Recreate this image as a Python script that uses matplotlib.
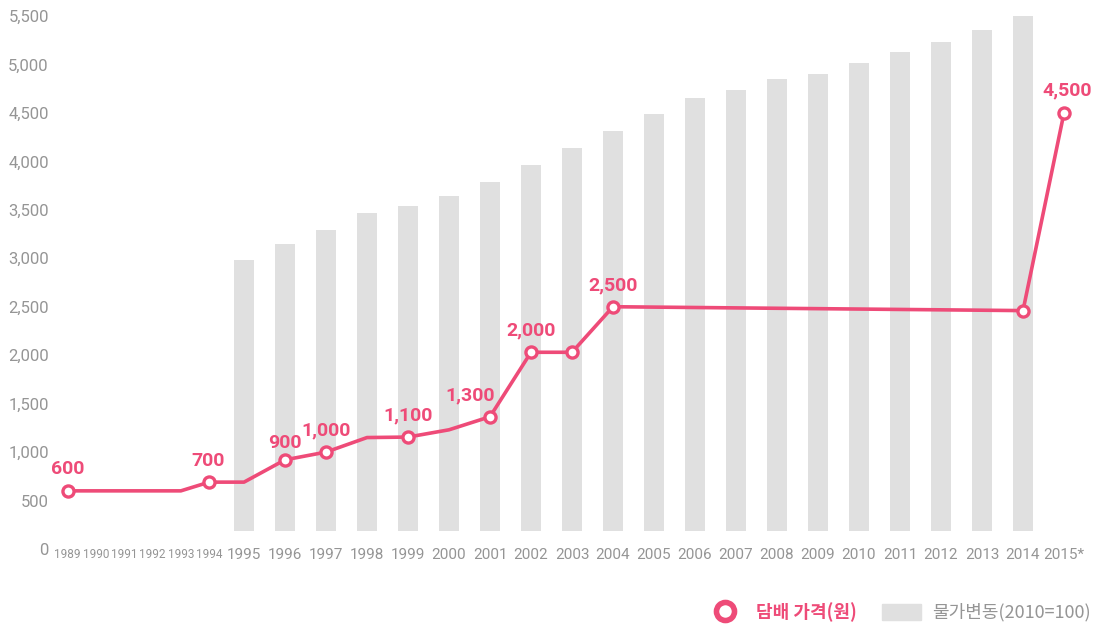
import numpy as np
import matplotlib
matplotlib.use("Agg")
import matplotlib.pyplot as plt
from matplotlib.lines import Line2D
from matplotlib.patches import Patch

# Data
years = list(range(1989, 2016))
year_labels = [str(y) for y in years[:-1]] + ["2015*"]

bar_years = list(range(1995, 2015))
bar_values = [2980, 3150, 3290, 3470, 3540, 3640, 3790, 3960, 4140, 4310,
              4490, 4650, 4740, 4850, 4900, 5020, 5130, 5230, 5360, 5500]
bar_base = 185

price_years = [1989, 1993, 1994, 1995, 1996, 1997, 1998, 1999, 2000, 2001,
               2002, 2003, 2004, 2014, 2015]
price_values = [600, 600, 690, 690, 920, 1000, 1150, 1155, 1230, 1365,
                2030, 2030, 2500, 2460, 4500]
marker_years = [1989, 1994, 1996, 1997, 1999, 2001, 2002, 2003, 2004, 2014, 2015]
label_years = [1989, 1994, 1996, 1997, 1999, 2001, 2002, 2004, 2015]
label_texts = ["600", "700", "900", "1,000", "1,100", "1,300", "2,000", "2,500", "4,500"]

yticks = list(range(0, 5501, 500))

PINK = "#EE4B78"
GRAY_BAR = "#E0E0E0"
GRAY_TXT = "#959595"
NUM_FONT = ["Roboto", "DejaVu Sans"]

# x scale: early years are squeezed together
gaps = [0] + [0.69] * 5 + [0.85] + [1.0] * 20
xpos = np.cumsum(gaps) - sum(gaps[:7])
pos = dict(zip(years, xpos))

fig = plt.figure(figsize=(10.97, 6.29), dpi=100)
ax = fig.add_axes([60 / 1097, 80 / 629, 1030 / 1097, 533 / 629])

ax.bar([pos[y] for y in bar_years], np.array(bar_values) - bar_base,
       bottom=bar_base, width=0.49, color=GRAY_BAR, zorder=1)

ax.plot([pos[y] for y in price_years], price_values, color=PINK, lw=2.6,
        zorder=2, solid_joinstyle="round")
mk = [price_values[price_years.index(y)] for y in marker_years]
ax.plot([pos[y] for y in marker_years], mk, "o", ms=8, mfc="white",
        mec=PINK, mew=2.4, lw=0, zorder=3)

# label offsets in points (dx, dy)
offsets = {1994: (-1, 9), 1996: (0, 6), 2001: (-14, 9), 2015: (2, 10)}
for y, t in zip(label_years, label_texts):
    v = price_values[price_years.index(y)]
    dx, dy = offsets.get(y, (0, 9))
    ax.annotate(t, (pos[y], v), xytext=(dx, dy), textcoords="offset points",
                ha="center", va="bottom", color=PINK, fontsize=14,
                fontweight="bold", family=["Roboto", "DejaVu Sans"])

ax.set_ylim(0, 5500)
ax.set_xlim((60 - 244) / 41, (1090 - 244) / 41)
ax.set_yticks(yticks)
ax.set_yticklabels([f"{v:,}" for v in yticks], family=NUM_FONT,
                   fontsize=12, color=GRAY_TXT)
ax.set_xticks([pos[y] for y in years])
ax.set_xticklabels(year_labels, family=NUM_FONT, color=GRAY_TXT)
for y, lab in zip(years, ax.get_xticklabels()):
    lab.set_fontsize(8.5 if y < 1995 else 11)
    lab.set_va("center")
ax.tick_params(length=0)
ax.tick_params(axis="x", pad=4)
ax.tick_params(axis="y", pad=8)
for s in ax.spines.values():
    s.set_visible(False)

handles = [Line2D([], [], marker="o", ms=13, mfc="white", mec=PINK, mew=4, lw=0),
           Patch(color=GRAY_BAR)]
leg = fig.legend(handles, ["담배 가격(원)", "물가변동(2010=100)"],
                 loc="center right", bbox_to_anchor=(1107 / 1097, 17 / 629),
                 ncol=2, frameon=False, handlelength=2.2, handleheight=1.0,
                 columnspacing=1.4, handletextpad=0.6,
                 prop={"family": ["Noto Sans CJK KR", "DejaVu Sans"], "size": 13})
txts = leg.get_texts()
txts[0].set_color(PINK)
txts[0].set_fontweight("bold")
txts[1].set_color(GRAY_TXT)

fig.savefig("out.png", dpi=100)
